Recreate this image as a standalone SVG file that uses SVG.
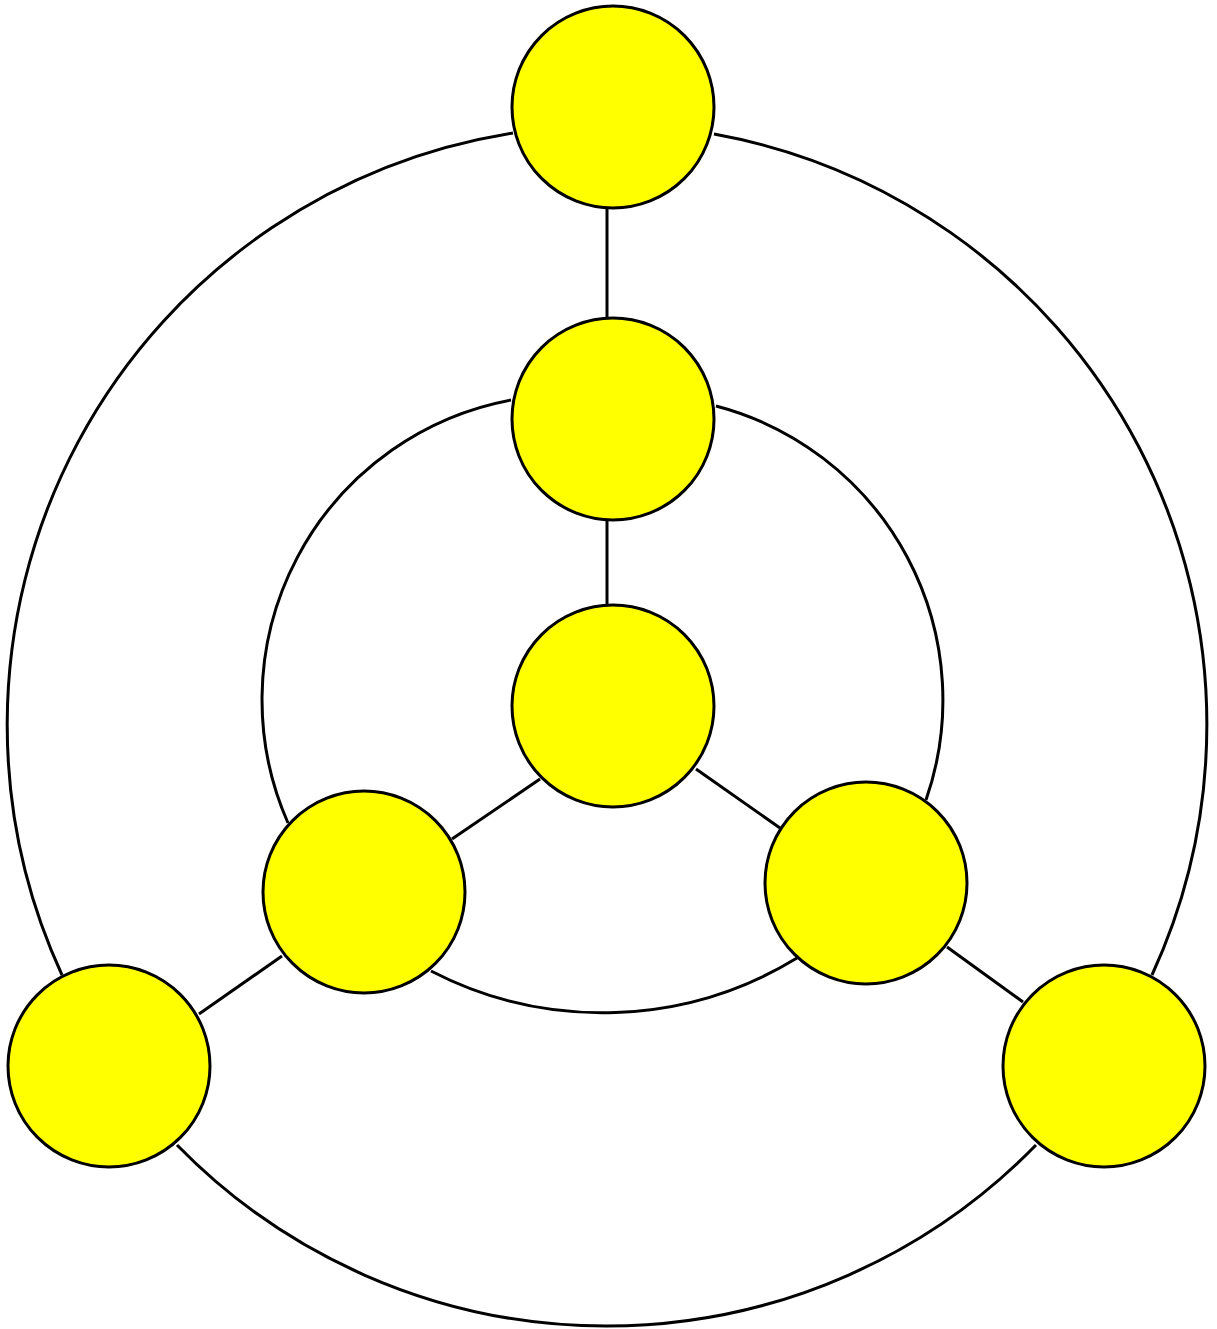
<svg xmlns="http://www.w3.org/2000/svg" width="1217" height="1329" viewBox="0 0 1217 1329">
<style>
.e{fill:none;stroke:#000;stroke-width:3}
.n{fill:#ffff00;stroke:#000;stroke-width:3}
</style>
<rect width="1217" height="1329" fill="#fff"/>
<g id="edges">
<path class="e" d="M607 209 L607 317"/>
<path class="e" d="M607 521 L607 604"/>
<path class="e" d="M540 779 L452 839"/>
<path class="e" d="M696 769 L780 828"/>
<path class="e" d="M282 956 L199 1014"/>
<path class="e" d="M947 947 L1023 1002"/>
<path class="e" d="M513 133 A599 599 0 0 0 62 975"/>
<path class="e" d="M714 134 A600 600 0 0 1 1152 975"/>
<path class="e" d="M177 1145 A600 600 0 0 0 1036 1145"/>
<path class="e" d="M511 400 A305 305 0 0 0 288 823"/>
<path class="e" d="M716 406 A304 304 0 0 1 926 800"/>
<path class="e" d="M431 971 A373 373 0 0 0 797 958"/>
</g>
<g id="n1"><circle class="n" cx="613" cy="107" r="101"/></g>
<g id="n2"><circle class="n" cx="613" cy="419" r="101"/></g>
<g id="n3"><circle class="n" cx="613" cy="706" r="101"/></g>
<g id="n4"><circle class="n" cx="364" cy="892" r="101"/></g>
<g id="n5"><circle class="n" cx="866" cy="883" r="101"/></g>
<g id="n6"><circle class="n" cx="109" cy="1066" r="101"/></g>
<g id="n7"><circle class="n" cx="1104" cy="1066" r="101"/></g>
</svg>
